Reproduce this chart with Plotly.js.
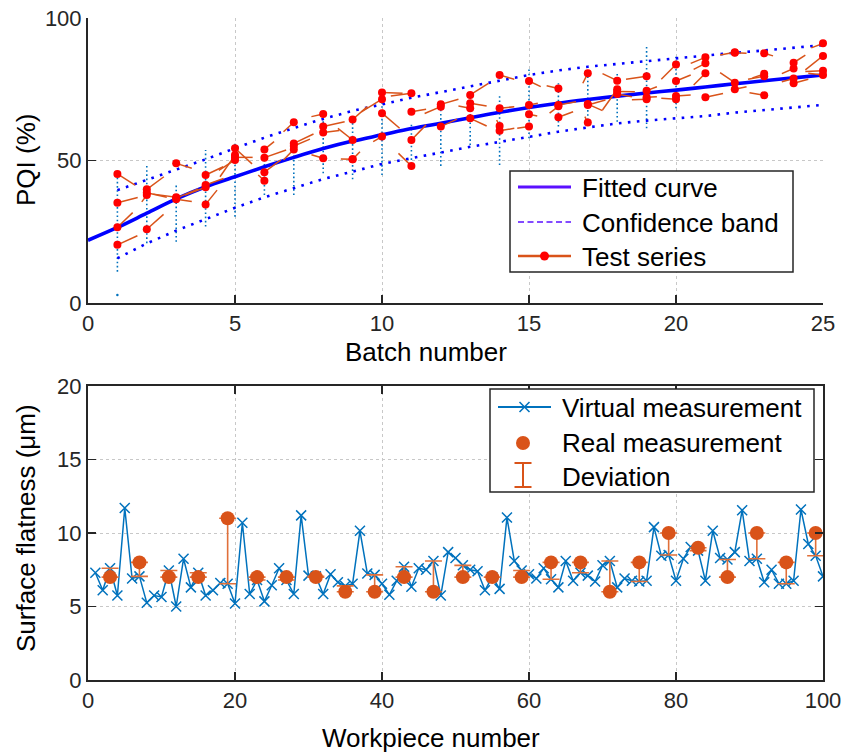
<!DOCTYPE html>
<html><head><meta charset="utf-8">
<script src="https://cdn.plot.ly/plotly-3.0.1.min.js"></script>
<style>html,body{margin:0;padding:0;background:#fff}#chart{width:860px;height:755px}</style>
</head><body><div id="chart"></div>
<script>
// ---------- Top panel data ----------
const fitX = [0,1,2,3,4,5,6,7,8,9,10,11,12,13,14,15,16,17,18,19,20,21,22,23,24,25];
const fitY = [22,26.5,31.5,36.5,40.8,44.3,47.8,51.1,54.2,56.8,59,61.2,63.1,65,66.9,68.6,70.1,71.4,72.6,73.7,74.7,75.8,76.9,78,79,80];
const bandX = [1,2,3,4,5,6,7,8,9,10,11,12,13,14,15,16,17,18,19,20,21,22,23,24,25];
const bandUpper = [39.6,43.2,46.7,50.4,54.3,58,61.4,64.6,67.4,69.8,72,74,75.9,78,80,81.6,82.9,83.9,84.9,85.8,86.9,87.8,88.6,89.5,90.5];
const bandLower = [15.7,20.9,25.4,29.4,33.4,37.1,40.2,43.5,46.1,48.8,50.8,52.9,54.8,56.5,58.4,60.1,61.6,63,64,64.7,65.6,66.8,67.7,68.7,69.5];
const spreadX = [1,2,3,4,5,6,7,8,9,10,11,12,13,14,15,16,17,18,19,20];
const spreadLow = [11,21,21.5,26.8,30.3,37.9,37.9,45.5,43.4,44.9,50.2,48.1,55.4,48.4,57.8,61.9,64.2,63.6,61.3,68.3];
const spreadHigh = [46,48.4,42,53.7,56.6,51.3,56.6,64.2,63.6,74.2,63,69.5,73.6,73,82.9,77.1,81.8,81.2,90,86.4];
const spreadOutX = [1];
const spreadOutY = [2.8];
const testX = [1,1,1,1, 2,2,2,2, 3,3,3,3, 4,4,4,4, 5,5,5,5, 6,6,6,6, 7,7,7,7, 8,8,8,8, 9,9,9,9, 10,10,10,10,
  11,11,11,11, 12,12,12, 13,13,13,13, 14,14,14,14, 15,15,15,15, 16,16,16,16, 17,17,17,17, 18,18,18,18,
  19,19,19,19, 20,20,20,20, 21,21,21,21, 22,22,22,22, 23,23,23,23, 24,24,24,24, 25,25,25,25];
const testY = [45.3,35.2,26.6,20.4, 39.9,38.7,37.9,25.9, 49.0,37.1,36.4,36.8, 44.9,41.4,40.6,34.6, 54.3,51.9,51.1,50.2,
  53.9,51.0,45.9,42.9, 63.4,56.0,55.1,53.9, 66.3,61.9,59.8,50.8, 64.4,57.2,50.4,50.4, 73.9,71.5,66.6,58.4,
  73.6,67.1,57.2,48.1, 69.7,68.9,61.9, 73.0,70.1,68.3,64.8, 80.0,68.3,62.1,60.4, 77.9,69.5,66.2,61.9,
  75.3,69.5,65.2,69.0, 80.6,69.5,63.3,69.8, 78.0,75.0,74.2,73.3, 79.6,74.5,72.2,71.5, 83.7,77.9,72.6,71.5,
  86.2,84.1,80.6,72.2, 88.0,87.8,77.3,75.0, 87.6,80.4,79.6,72.9, 84.3,82.3,78.8,77.1, 91.1,86.7,81.5,80.0];
const tailX = [1.6,1.69,1.52,1.68, 2.58,2.68,1.83,2.57, 3.53,2.22,3.53,3.75, 4.6,4.61,3.3,4.39, 5.58,4.49,5.6,4.45,
  6.33,6.74,6.56,5.79, 6.65,7.67,7.55,6.65, 7.6,8.73,8.55,7.6, 9.5,8.5,9.25,8.6, 10.7,9.3,10.6,9.7,
  10.3,11.5,11.5,10.56, 12.6,11.45,12.55, 13.62,13.56,12.6,13.56, 14.5,14.5,13.9,14.5, 15.4,15.3,15.28,14.6,
  15.6,16.6,16.5,15.7, 16.83,17.6,16.9,17.5, 17.5,17.5,18.6,18.5, 18.3,19.35,19.35,18.5, 19.5,20.5,20.5,19.5,
  20.5,20.6,20.6,21.6, 21.5,22.4,21.5,22.4, 23.3,22.6,22.45,22.5, 24.4,23.6,23.6,24.5, 24.6,24.4,24.4,24.5];
const tailY = [41.4,37.0,31.7,23.6, 44.3,37.1,35.5,31.1, 47.3,38.2,35.6,40.0, 47.8,43.7,37.9,39.6, 48.8,44.3,51.1,46.5,
  56.6,53.7,50.2,44.9, 60.1,59.3,57.5,50.2, 65.4,63.6,60.5,52.0, 68.9,61.3,53.1,50.5, 73.6,67.1,61.3,56.6,
  72.6,68.0,62.5,52.5, 71.5,66.5,64.5, 77.1,69.1,69.1,62.1, 78.5,68.9,64.2,61.3, 75.9,70.1,65.6,61.3,
  76.2,70.6,67.1,66.6, 77.1,71.2,65.4,67.5, 80.5,67.7,74.1,72.4, 78.5,75.9,72.4,71.3, 78.5,80.0,73.0,71.8,
  84.1,82.0,76.5,73.5, 87.0,87.6,80.8,75.9, 86.7,79.0,78.5,73.8, 87.0,80.5,77.6,78.5, 89.5,81.8,81.2,80.6];

// ---------- Bottom panel data ----------
const workpiece = Array.from({length: 100}, (_, i) => i + 1);
const virtualVals = [7.3,6.1,7.6,5.75,11.7,6.9,7.05,5.25,5.75,5.65,
  7.45,5.0,8.25,6.3,7.3,5.75,6.1,6.6,6.55,5.2,
  10.7,5.85,6.8,5.35,6.45,7.6,6.8,5.85,11.2,7.1,
  7.05,5.85,7.2,6.65,6.4,6.55,10.15,7.25,7.15,6.55,
  5.8,6.75,7.7,6.35,7.6,7.5,8.1,5.75,8.7,8.3,
  7.8,7.5,7.4,6.1,7.0,6.2,11.05,8.1,7.45,7.2,
  6.9,7.6,6.85,6.3,8.1,6.75,7.3,7.1,6.7,7.8,
  8.1,6.3,6.9,6.75,6.7,6.75,10.4,8.45,8.5,6.75,
  8.25,9.05,8.8,6.75,10.15,8.3,8.2,8.7,11.55,8.1,
  8.25,6.65,7.5,6.55,6.55,6.75,11.6,9.25,8.45,7.05];
const realIdx = [3,7,11,15,19,23,27,31,35,39,43,47,51,55,59,63,67,71,75,79,83,87,91,95,99];
const realVals = [7,8,7,7,11,7,7,7,6,6,7,6,7,7,7,8,8,6,8,10,9,7,10,8,10];

// ---------- build traces ----------
const FONT = 'Liberation Sans, Arial, Helvetica, sans-serif';
const DARK = '#262626';
const sx = [], sy = [];
spreadX.forEach((x, i) => { sx.push(x, x, null); sy.push(spreadLow[i], spreadHigh[i], null); });
const tx = [], ty = [];
testX.forEach((x, i) => { tx.push(x, tailX[i], null); ty.push(testY[i], tailY[i], null); });
const devUp = realIdx.map((n, i) => Math.max(virtualVals[n - 1] - realVals[i], 0));
const devDown = realIdx.map((n, i) => Math.max(realVals[i] - virtualVals[n - 1], 0));

const traces = [
  {x: sx, y: sy, mode: 'lines', line: {color: '#0072BD', width: 1.6, dash: '1.6px,2.6px'}, showlegend: false, hoverinfo: 'skip'},
  {x: spreadOutX, y: spreadOutY, mode: 'markers', marker: {color: '#0072BD', size: 2.5}, showlegend: false},
  {x: bandX, y: bandUpper, mode: 'lines', line: {color: '#0000FF', width: 2.6, dash: '2.6px,6.4px'}, name: 'Confidence band', showlegend: false},
  {x: bandX, y: bandLower, mode: 'lines', line: {color: '#0000FF', width: 2.6, dash: '2.6px,6.4px'}, showlegend: false},
  {x: fitX, y: fitY, mode: 'lines', line: {color: '#0000FF', width: 3.6, shape: 'spline'}, name: 'Fitted curve', showlegend: false},
  {x: tx, y: ty, mode: 'lines', line: {color: '#D95319', width: 1.5}, showlegend: false},
  {x: testX, y: testY, mode: 'markers', marker: {color: '#FF0000', size: 8}, cliponaxis: false, name: 'Test series', showlegend: false},
  {x: workpiece, y: virtualVals, xaxis: 'x2', yaxis: 'y2', mode: 'lines+markers', name: 'Virtual measurement',
   line: {color: '#0072BD', width: 1.5}, marker: {symbol: 'x-thin', size: 10, line: {color: '#0072BD', width: 1.5}}, showlegend: false},
  {x: realIdx, y: realVals, xaxis: 'x2', yaxis: 'y2', mode: 'markers', name: 'Real measurement',
   marker: {color: '#D95319', size: 14},
   error_y: {type: 'data', symmetric: false, array: devUp, arrayminus: devDown, color: '#E0703A', thickness: 1.6, width: 8.5},
   showlegend: false}
];

// ---------- manual legends and titles (pixel -> paper) ----------
const L = 88, R = 37, T = 18, B = 75, W = 860, H = 755;
const xp = px => (px - L) / (W - L - R);
const yp = py => (H - B - py) / (H - T - B);
const shapes = [], annotations = [];
function seg(x0, y0, x1, y1, color, width, dash) {
  shapes.push({type: 'line', xref: 'paper', yref: 'paper', x0: xp(x0), y0: yp(y0), x1: xp(x1), y1: yp(y1),
    line: {color: color, width: width, dash: dash || 'solid'}});
}
function box(x0, y0, x1, y1) {
  shapes.push({type: 'rect', xref: 'paper', yref: 'paper', x0: xp(x0), y0: yp(y1), x1: xp(x1), y1: yp(y0),
    line: {color: DARK, width: 1.5}, fillcolor: '#FFFFFF'});
}
function dot(cx, cy, r, color) {
  shapes.push({type: 'circle', xref: 'paper', yref: 'paper', x0: xp(cx - r), x1: xp(cx + r), y0: yp(cy + r), y1: yp(cy - r),
    line: {width: 0}, fillcolor: color});
}
function label(px, py, text, opts) {
  opts = opts || {};
  annotations.push({xref: 'paper', yref: 'paper', x: xp(px), y: yp(py), xanchor: opts.xanchor || 'left', yanchor: 'middle',
    textangle: opts.angle || 0, text: text, showarrow: false,
    font: {family: FONT, size: opts.size || 26, color: '#000'}});
}
// top legend
box(510, 171, 793, 272);
seg(518, 187, 571, 187, '#5B10FF', 3);
seg(518, 222, 571, 222, '#5B10FF', 1.6, '6px,3.5px');
seg(518, 256, 571, 256, '#D95319', 2.5);
dot(544.5, 256, 4.5, '#FF0000');
label(580, 188, 'Fitted curve');
label(580, 223, 'Confidence band');
label(580, 257, 'Test series');
// bottom legend
box(490, 389, 814, 492);
seg(498, 407, 551, 407, '#0072BD', 2);
seg(519.5, 402, 529.5, 412, '#0072BD', 1.6);
seg(519.5, 412, 529.5, 402, '#0072BD', 1.6);
dot(523, 443, 7, '#D95319');
seg(523, 463, 523, 487, '#D95319', 2);
seg(514.5, 463, 531.5, 463, '#D95319', 2);
seg(514.5, 487, 531.5, 487, '#D95319', 2);
label(560, 408, 'Virtual measurement');
label(560, 443, 'Real measurement');
label(560, 477, 'Deviation');
// axis titles
label(426, 352, 'Batch number', {xanchor: 'center'});
label(431, 738, 'Workpiece number', {xanchor: 'center'});
label(26, 160, 'PQI (%)', {xanchor: 'center', angle: -90});
label(26, 528, 'Surface flatness (μm)', {xanchor: 'center', angle: -90});

const axBase = {
  ticks: 'inside', ticklen: 8, tickwidth: 1.4, tickcolor: DARK,
  showline: true, linecolor: DARK, linewidth: 2,
  showgrid: true, gridcolor: '#C8C8C8', gridwidth: 1, griddash: 'dot',
  zeroline: false, tickfont: {family: FONT, size: 22, color: DARK}
};
const layout = {
  width: W, height: H, margin: {l: L, r: R, t: T, b: B},
  paper_bgcolor: '#fff', plot_bgcolor: '#fff', showlegend: false,
  xaxis: Object.assign({}, axBase, {anchor: 'y', domain: [0, 1], range: [0, 25], tickvals: [0, 5, 10, 15, 20, 25]}),
  yaxis: Object.assign({}, axBase, {anchor: 'x', domain: [(H - B - 303) / (H - T - B), 1], range: [0, 100], tickvals: [0, 50, 100]}),
  xaxis2: Object.assign({}, axBase, {anchor: 'y2', domain: [0, 1], range: [0, 100], tickvals: [0, 20, 40, 60, 80, 100], mirror: 'ticks'}),
  yaxis2: Object.assign({}, axBase, {anchor: 'x2', domain: [0, (H - B - 386) / (H - T - B)], range: [0, 20], tickvals: [0, 5, 10, 15, 20], mirror: 'ticks'}),
  shapes: shapes, annotations: annotations
};
Plotly.newPlot('chart', traces, layout, {displayModeBar: false, staticPlot: true});
</script></body></html>
